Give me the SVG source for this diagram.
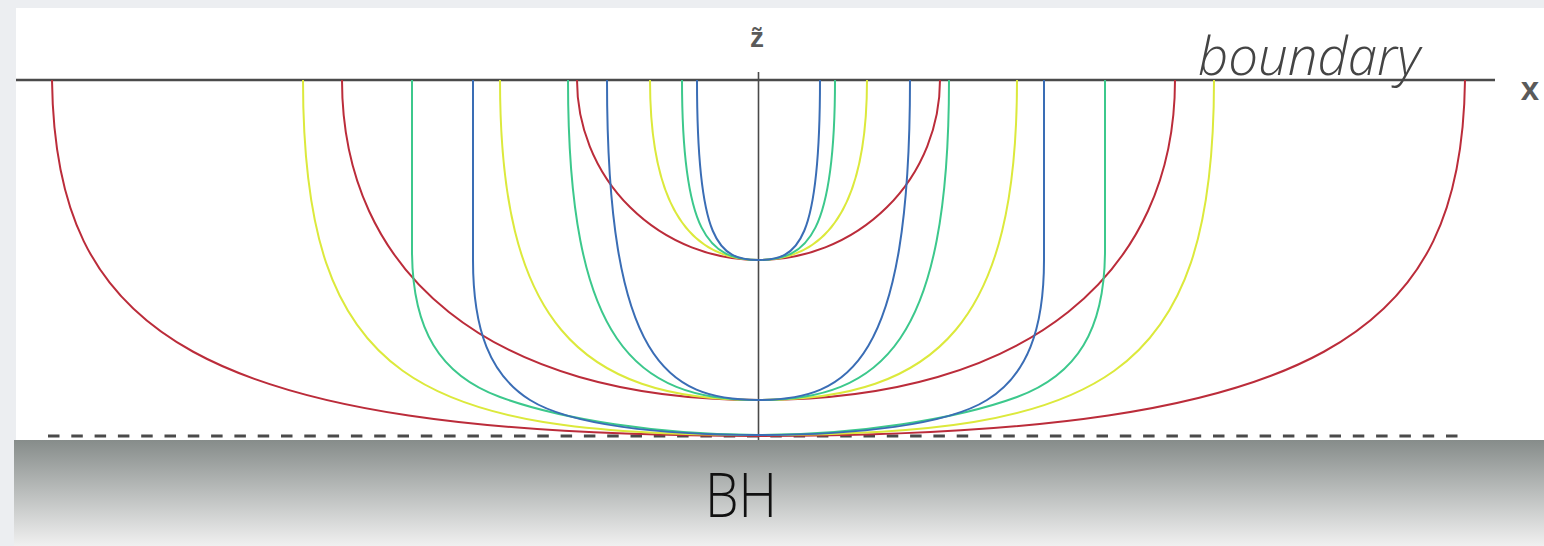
<svg xmlns="http://www.w3.org/2000/svg" width="1544" height="546" viewBox="0 0 1544 546">
<defs>
<linearGradient id="bh" x1="0" y1="0" x2="0" y2="1">
<stop offset="0" stop-color="#868c8a"/>
<stop offset="1" stop-color="#f0f0f0"/>
</linearGradient>
<style>
.c{fill:none;stroke-width:2}
.r{stroke:#bb2c3a}
.y{stroke:#dce93c}
.g{stroke:#3cc88c}
.b{stroke:#3a6db5}
.ax{stroke:#4a4a4a;fill:none}
.lab{font-family:"Liberation Sans",Arial,sans-serif;font-weight:bold;fill:#5a5a5a}
</style>
</defs>
<rect x="0" y="0" width="1544" height="546" fill="#eceef1"/>
<rect x="16" y="8" width="1528" height="432" fill="#ffffff"/>
<rect x="14" y="440" width="1530" height="106" fill="url(#bh)"/>
<g id="axes">
<line class="ax" x1="16" y1="80" x2="1495" y2="80" stroke-width="2.5"/>
<line class="ax" x1="758.5" y1="72" x2="758.5" y2="440" stroke-width="1.6"/>
<line x1="48" y1="436" x2="1468" y2="436" stroke="#4a4a4a" stroke-width="3" stroke-dasharray="11.5 11.8"/>
<text class="lab" x="757" y="47" font-size="28" text-anchor="middle">z̃</text>
<text class="lab" x="1530" y="100" font-size="33" text-anchor="middle">x</text>
</g>
<g id="familyA">
<path class="c r" d="M577,80 A181.5,180 0 0 0 940,80"/>
<path class="c y" d="M650,80 C650,215 695.5,260 758.5,260 C821.5,260 867,215 867,80"/>
<path class="c g" d="M682,80 C682,233 708.5,260 758.5,260 C808.5,260 835,233 835,80"/>
<path class="c b" d="M697,80 C697,242 718.5,260 758.5,260 C798.5,260 820,242 820,80"/>
</g>
<g id="familyB">
<path class="c r" d="M342,80 C342,272 488,400 758.5,400 C1029,400 1175,272 1175,80"/>
<path class="c y" d="M500,80 C500,320 577.5,400 758.5,400 C939.5,400 1017,320 1017,80"/>
<path class="c g" d="M568,80 C568,342 634.5,400 758.5,400 C882.5,400 949,342 949,80"/>
<path class="c b" d="M607,80 C607,362 667.5,400 758.5,400 C849.5,400 910,362 910,80"/>
</g>
<g id="familyC">
<path class="c r" d="M52,80 C55,330 190,436 758.5,436 C1327,436 1462,330 1465,80"/>
<path class="c y" d="M303,80 C303,382 417,435 758.5,435 C1100,435 1214,382 1214,80"/>
<path class="c g" d="M412,80 L412,250 C412,330 440,375 500,397 C560,419 660,435 758.5,435 C857,435 957,419 1017,397 C1077,375 1105,330 1105,250 L1105,80"/>
<path class="c b" d="M473,80 L473,260 C473,330 490,375 530,400 C570,425 660,435 758.5,435 C857,435 947,425 987,400 C1027,375 1044,330 1044,260 L1044,80"/>
</g>
<text x="1198" y="75" font-family="'Open Sans','Noto Sans',sans-serif" font-weight="300" font-style="italic" font-size="54" fill="#444" textLength="222" lengthAdjust="spacingAndGlyphs">boundary</text>
<text x="705" y="517" font-family="'Open Sans','Noto Sans',sans-serif" font-weight="300" font-size="60" fill="#111" textLength="72" lengthAdjust="spacingAndGlyphs">BH</text>
</svg>
